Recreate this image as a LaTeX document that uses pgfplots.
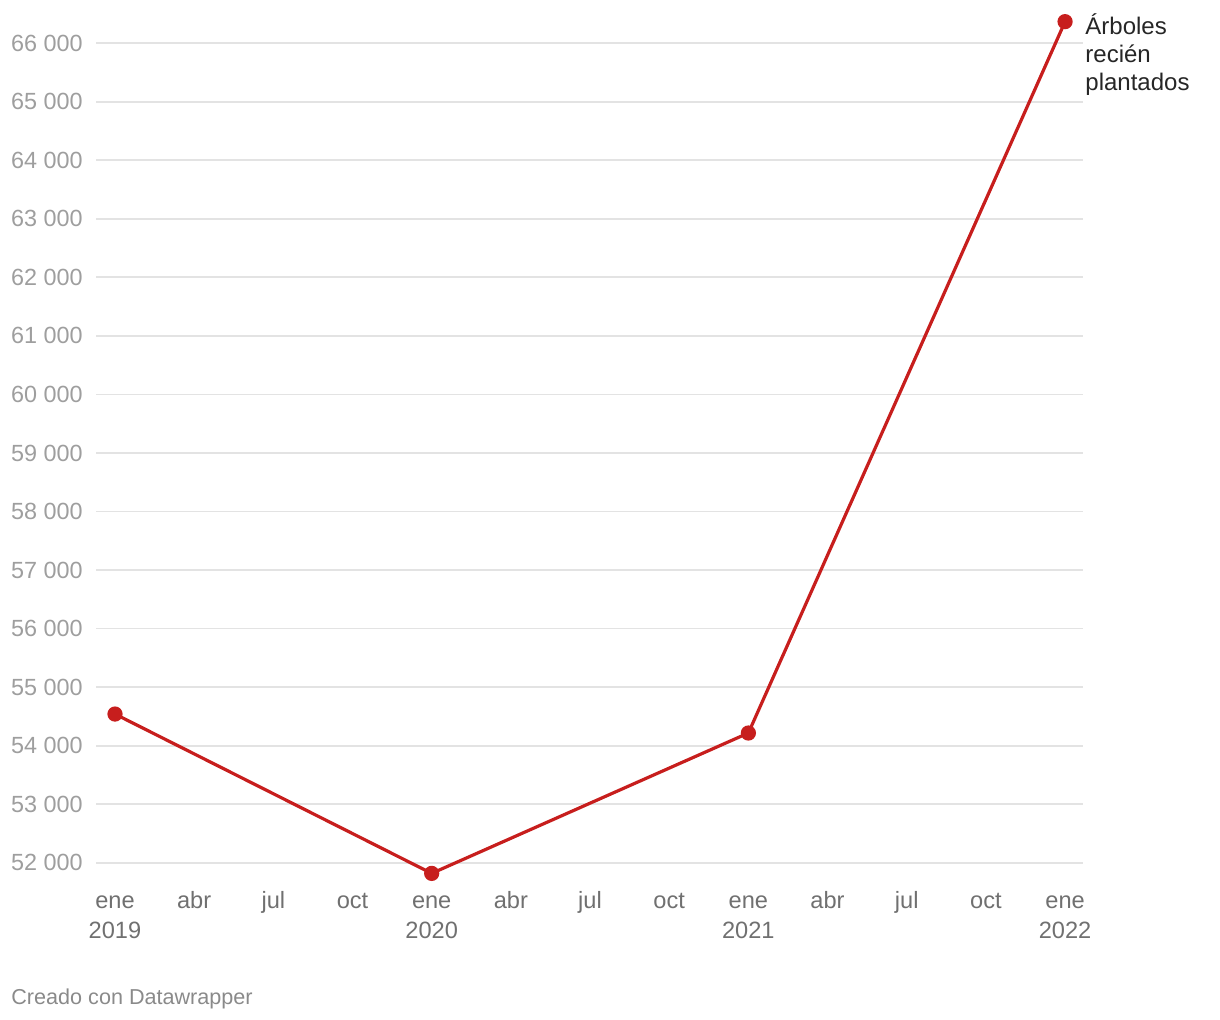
\documentclass[border=0pt]{standalone}
\usepackage{pgfplots}
\pgfplotsset{compat=1.18}
\usepackage{fontspec}
\setmainfont{Liberation Sans}
\definecolor{dwred}{HTML}{C71E1D}
\definecolor{ygray}{HTML}{9E9E9E}
\definecolor{xgray}{HTML}{707070}
\definecolor{gridgray}{HTML}{E3E3E3}
\definecolor{foot}{HTML}{8A8A8A}
\begin{document}
\begin{tikzpicture}
\useasboundingbox (-48pt,-69.85pt) rectangle (562pt,440.15pt);
\begin{axis}[
  scale only axis,
  width=493.5pt, height=433.15pt,
  xmin=-0.72, xmax=36.68,
  ymin=51700, ymax=66500,
  axis line style={draw=none},
  major tick length=0pt,
  clip=false,
  scaled y ticks=false,
  ytick={52000,53000,...,66000},
  ymajorgrids,
  grid style={gridgray, line width=0.9pt},
  xtick={0,3,...,36},
  xticklabels={\strut ene\\2019,\strut abr,\strut jul,\strut oct,\strut ene\\2020,\strut abr,\strut jul,\strut oct,\strut ene\\2021,\strut abr,\strut jul,\strut oct,\strut ene\\2022},
  xticklabel style={align=center, text=xgray, font=\fontsize{11.8}{14.8}\selectfont, anchor=north, inner sep=0pt, yshift=-3.5pt},
  yticklabel style={text=ygray, font=\fontsize{11.7}{13}\selectfont, anchor=east, inner sep=0pt, xshift=-6.5pt},
  /pgf/number format/assume math mode=true,
  /pgf/number format/1000 sep={\ },
]
\addplot[dwred, line width=1.6pt, mark=*, mark size=3pt, mark options={fill=dwred, draw=dwred}] coordinates {
  (0,54540) (12,51818) (24,54216) (36,66369)
};
\node[anchor=north west, inner sep=0pt, align=left, font=\fontsize{12}{14}\selectfont, text={black!85}, xshift=10pt, yshift=4pt] at (axis cs:36,66369) {Árboles\\recién\\plantados};
\end{axis}
\node[anchor=west, inner sep=0pt, text=foot, font=\fontsize{10.8}{12}\selectfont] at (-42.5pt,-59.5pt) {Creado con Datawrapper};
\end{tikzpicture}
\end{document}
